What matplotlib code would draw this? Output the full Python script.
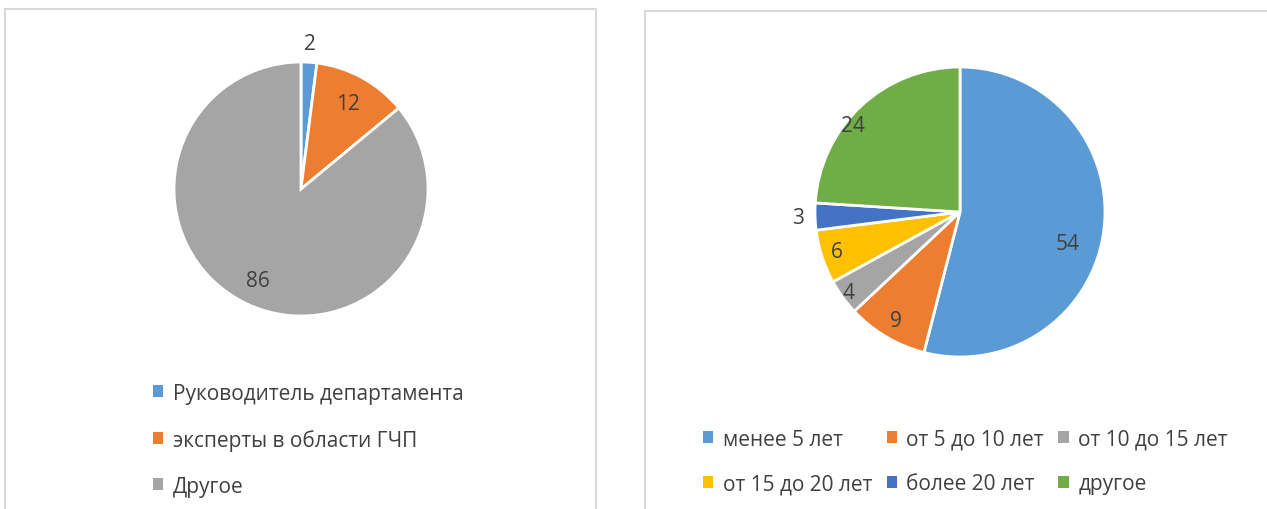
import matplotlib.pyplot as plt
from matplotlib.patches import Rectangle
import numpy as np

plt.rcParams['font.family'] = ['Open Sans', 'DejaVu Sans']

# данные
left_labels = ['Руководитель департамента', 'эксперты в области ГЧП', 'Другое']
left_values = [2, 12, 86]
left_colors = ['#5B9BD5', '#ED7D31', '#A5A5A5']
left_dist = [1.15, 0.77, 0.80]
left_shift = [0, 0, 0]

right_labels = ['менее 5 лет', 'от 5 до 10 лет', 'от 10 до 15 лет',
                'от 15 до 20 лет', 'более 20 лет', 'другое']
right_values = [54, 9, 4, 6, 3, 24]
right_colors = ['#5B9BD5', '#ED7D31', '#A5A5A5', '#FFC000', '#4472C4', '#70AD47']
right_dist = [0.77, 0.87, 0.95, 0.89, 1.12, 0.95]
right_shift = [-9, 0, 0, 0, 0, 8]

W, H = 1267, 510
txt_color = '#404040'
fs = 15

fig = plt.figure(figsize=(W / 100, H / 100), dpi=100)

# рамки панелей
for x0, y0, x1 in [(5, 10, 596), (645, 12, 1275)]:
    fig.add_artist(Rectangle((x0 / W, -0.05), (x1 - x0) / W, (H - y0) / H + 0.05,
                             transform=fig.transFigure, fill=False,
                             edgecolor='#D9D9D9', linewidth=1.5))


def draw_pie(cx, cy, r, values, colors, dist, shift):
    ax = fig.add_axes([(cx - r) / W, (H - cy - r) / H, 2 * r / W, 2 * r / H])
    wedges, _ = ax.pie(values, colors=colors, startangle=90, counterclock=False,
                       wedgeprops=dict(edgecolor='white', linewidth=2))
    ax.set_xlim(-1, 1)
    ax.set_ylim(-1, 1)
    ax.set_aspect('auto')
    ax.axis('off')
    total = sum(values)
    cum = np.cumsum([0] + list(values))
    for i, v in enumerate(values):
        ang = np.deg2rad(90 - (cum[i] + v / 2) / total * 360 + shift[i])
        ax.text(dist[i] * np.cos(ang), dist[i] * np.sin(ang), str(v),
                ha='center', va='center', fontsize=fs, color=txt_color, clip_on=False)
    return wedges


lw = draw_pie(301, 190, 127, left_values, left_colors, left_dist, left_shift)
rw = draw_pie(960, 213, 145, right_values, right_colors, right_dist, right_shift)

leg1 = fig.legend(lw, left_labels, loc='upper left', bbox_to_anchor=(134 / W, 1 - 365 / H),
                  frameon=False, fontsize=fs, handlelength=0.5, handleheight=0.5,
                  handletextpad=0.45, labelspacing=1.2, labelcolor=txt_color)

order = [0, 3, 1, 4, 2, 5]
leg2 = fig.legend([rw[i] for i in order], [right_labels[i] for i in order],
                  loc='upper left', bbox_to_anchor=(684 / W, 1 - 411 / H), ncol=3,
                  frameon=False, fontsize=fs, handlelength=0.5, handleheight=0.5,
                  handletextpad=0.45, labelspacing=1.12, columnspacing=0.7,
                  labelcolor=txt_color)
for leg in (leg1, leg2):
    for h in leg.legend_handles:
        h.set_edgecolor('none')

fig.savefig('out.png', dpi=100)
